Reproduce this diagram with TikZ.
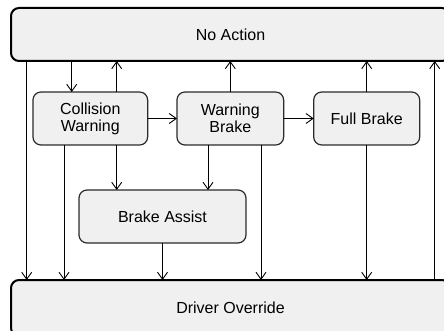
\documentclass[tikz,border=0pt]{standalone}
\usepackage{fontspec}
\setmainfont{Liberation Sans}
\usetikzlibrary{arrows.meta}
\definecolor{boxfill}{HTML}{F0F0F0}
\definecolor{boxline}{HTML}{2B2B2B}
\tikzset{
  statebox/.style={draw=boxline, fill=boxfill, line width=1.2pt, rounded corners=8pt,
    inner sep=0pt, outer sep=0pt, align=center,
    font=\fontsize{16}{17}\selectfont},
  railbox/.style={statebox, draw=black, line width=2pt},
  link/.style={draw=black, line width=0.9pt,
    -{Straight Barb[length=7pt,width=10pt,line width=0.9pt]}}
}
\begin{document}
\begin{tikzpicture}[x=1pt,y=-1pt]
  \useasboundingbox (0,0) rectangle (444,331);
  \clip (0,0) rectangle (444,331);

  % outer states
  \node[railbox, minimum width=439pt, minimum height=53pt] (noaction) at (230.5,34.5) {No Action};
  \node[railbox, minimum width=439pt, minimum height=56pt] (override) at (230.5,308) {Driver Override};

  % inner states
  \node[statebox, minimum width=114.7pt, minimum height=53pt] (cw) at (90.3,118.5) {Collision\\Warning};
  \node[statebox, minimum width=106.7pt, minimum height=53pt] (wb) at (230.3,118.5) {Warning\\Brake};
  \node[statebox, minimum width=106pt, minimum height=53pt] (fb) at (366.7,118.5) {Full Brake};
  \node[statebox, minimum width=167pt, minimum height=53pt] (ba) at (162.5,216.5) {Brake Assist};

  % x positions of the vertical links
  \coordinate (xa) at (26.7,0);
  \coordinate (xb) at (64,0);
  \coordinate (xc) at (71.7,0);
  \coordinate (xd) at (116.7,0);
  \coordinate (xe) at (208,0);
  \coordinate (xf) at (261,0);
  \coordinate (xg) at (434.7,0);

  % links
  \draw[link] (noaction.south -| xa) -- (override.north -| xa);
  \draw[link] (noaction.south -| xc) -- (cw.north -| xc);
  \draw[link] (cw.north -| xd) -- (noaction.south -| xd);
  \draw[link] (cw.south -| xb) -- (override.north -| xb);
  \draw[link] (cw.south -| xd) -- (ba.north -| xd);
  \draw[link] (cw.east) -- (wb.west);
  \draw[link] (wb.north) -- (noaction.south -| wb.north);
  \draw[link] (wb.south -| xe) -- (ba.north -| xe);
  \draw[link] (wb.south -| xf) -- (override.north -| xf);
  \draw[link] (wb.east) -- (fb.west);
  \draw[link] (fb.north) -- (noaction.south -| fb.north);
  \draw[link] (fb.south) -- (override.north -| fb.south);
  \draw[link] (ba.south) -- (override.north -| ba.south);
  \draw[link] (override.north -| xg) -- (noaction.south -| xg);
\end{tikzpicture}
\end{document}
